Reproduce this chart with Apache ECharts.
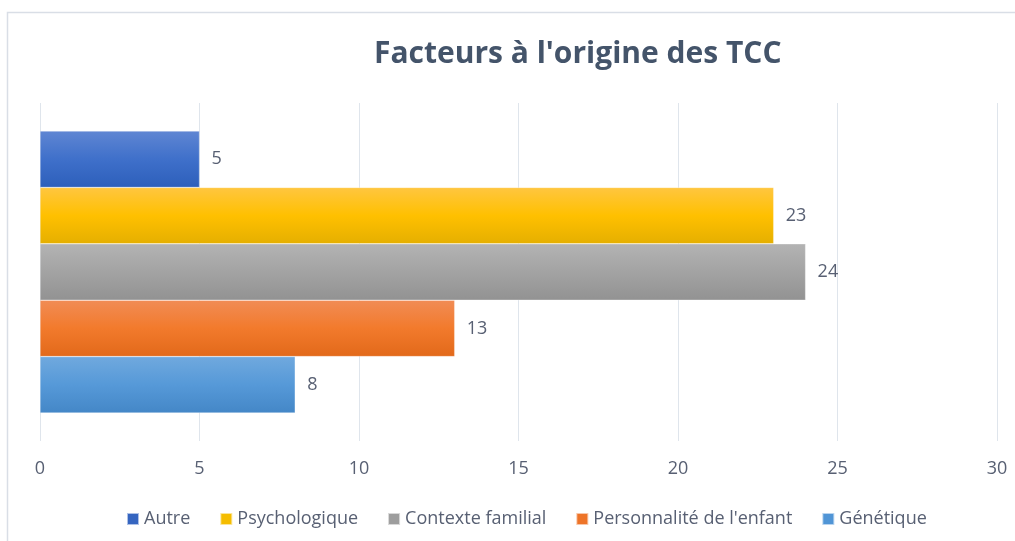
<!DOCTYPE html>
<html>
<head>
<meta charset="utf-8">
<title>Facteurs à l'origine des TCC</title>
<script src="https://cdn.jsdelivr.net/npm/echarts@6/dist/echarts.min.js"></script>
<style>
  html, body { margin: 0; padding: 0; background: #fff; }
  #main { width: 1015px; height: 541px; }
</style>
</head>
<body>
<div id="main"></div>
<script>
// données
var categories = [''];
var seriesNames = ['Autre', 'Psychologique', 'Contexte familial', "Personnalité de l'enfant", 'Génétique'];
var seriesValues = [5, 23, 24, 13, 8];
var xTicks = { min: 0, max: 30, interval: 5 };

// dégradés façon Office (haut clair -> bas foncé)
var gradients = [
    ['#5f86d3', '#3f70ca', '#2d5fbb'],
    ['#ffc640', '#ffc000', '#e5af00'],
    ['#b3b3b3', '#a3a3a3', '#929292'],
    ['#f18c55', '#f27a2c', '#e2691a'],
    ['#70a9de', '#5699d8', '#4487c7']
];
var legendColors = ['#3565c0', '#f5bd00', '#9d9d9d', '#ee7428', '#5095d6'];

var textColor = '#586073';
var font = 'Open Sans';

var myChart = echarts.init(document.getElementById('main'));

var series = seriesNames.map(function (name, i) {
    var g = gradients[i];
    return {
        name: name,
        type: 'bar',
        data: [seriesValues[i]],
        barGap: '0%',
        barCategoryGap: '16.6%',
        itemStyle: {
            color: new echarts.graphic.LinearGradient(0, 0, 0, 1, [
                { offset: 0, color: g[0] },
                { offset: 0.5, color: g[1] },
                { offset: 1, color: g[2] }
            ]),
            borderColor: 'rgba(255,255,255,0.6)',
            borderWidth: 0.5
        },
        label: {
            show: true,
            position: 'right',
            distance: 12,
            color: textColor,
            fontFamily: font,
            fontSize: 18
        }
    };
});

var option = {
    animation: false,
    color: legendColors,
    title: {
        text: "Facteurs à l'origine des TCC",
        left: 369,
        top: 34,
        textStyle: {
            color: '#44546a',
            fontFamily: font,
            fontWeight: 'bold',
            fontSize: 30
        }
    },
    graphic: [{
        type: 'rect',
        shape: { x: 7.5, y: 12.5, width: 1030, height: 560 },
        style: { fill: 'none', stroke: '#d9dee6', lineWidth: 1.5 },
        silent: true
    }],
    legend: {
        data: seriesNames.map(function (n, i) {
            return { name: n, itemStyle: { color: legendColors[i] } };
        }),
        left: 121,
        top: 505,
        icon: 'rect',
        itemWidth: 12,
        itemHeight: 12,
        itemGap: 29,
        textStyle: { color: textColor, fontFamily: font, fontSize: 18 }
    },
    grid: {
        left: 40,
        right: 18,
        top: 103,
        bottom: 100,
        containLabel: false
    },
    xAxis: {
        type: 'value',
        min: xTicks.min,
        max: xTicks.max,
        interval: xTicks.interval,
        axisLine: { show: false },
        axisTick: { show: false },
        axisLabel: { color: textColor, fontFamily: font, fontSize: 18, margin: 19 },
        splitLine: { show: true, lineStyle: { color: '#dfe5ec', width: 1 } }
    },
    yAxis: {
        type: 'category',
        data: categories,
        axisLine: { show: false },
        axisTick: { show: false },
        axisLabel: { show: false }
    },
    series: series
};

myChart.setOption(option);
</script>
</body>
</html>
